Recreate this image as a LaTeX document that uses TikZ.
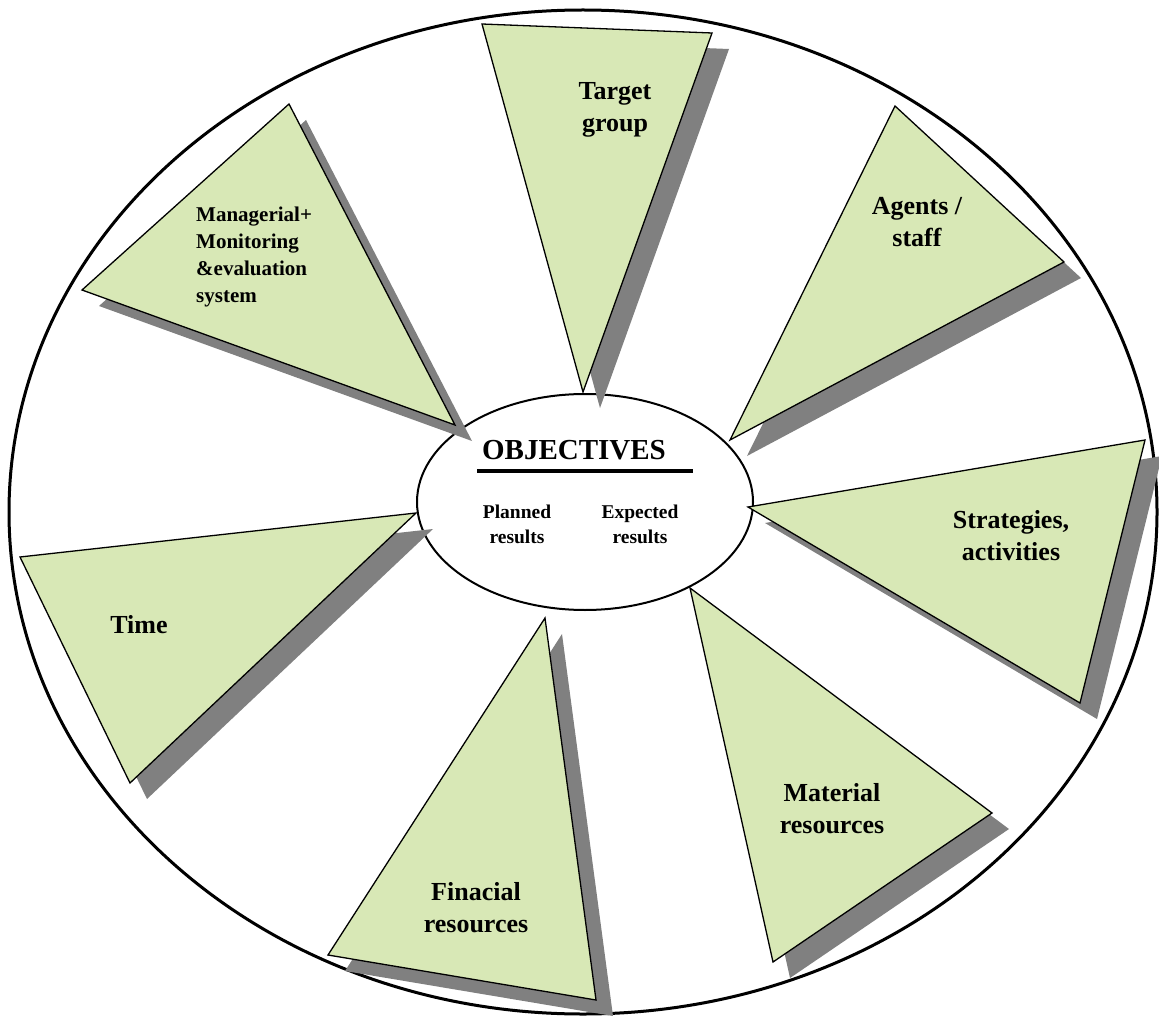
\documentclass[tikz,border=0pt]{standalone}
\usepackage{fontspec}
\setmainfont{Liberation Serif}
\usetikzlibrary{shapes.geometric}
\definecolor{leafgreen}{HTML}{D8E8B6}
\definecolor{shadowgray}{HTML}{808080}
\tikzset{%
  leaf/.style       = {fill=leafgreen, draw=black, line width=1.3pt},
  leafshadow/.style = {fill=shadowgray, shift={(17,16)}},
  leaftext/.style   = {inner sep=0pt, align=center,
                       font=\bfseries\fontsize{26}{32}\selectfont},
  subtext/.style    = {inner sep=0pt, align=center,
                       font=\bfseries\fontsize{19.5}{25}\selectfont},
}

\begin{document}
\begin{tikzpicture}[x=1pt, y=-1pt]
  \useasboundingbox (0,0) rectangle (1159,1016);

  % frame and centre
  \draw[line width=3pt] (583,512) ellipse [x radius=574, y radius=502];
  \node (objectives) [ellipse, draw=black, fill=white, line width=2pt,
        minimum width=336pt, minimum height=216pt, inner sep=0pt] at (585,502) {};

  % leaves: shadow first, then the leaf
  \fill[leafshadow] (482,24) -- (712,33) -- (583,392) -- cycle;
  \draw[leaf]       (482,24) -- (712,33) -- (583,392) -- cycle;

  \fill[leafshadow] (895,106) -- (1064,262) -- (730,440) -- cycle;
  \draw[leaf]       (895,106) -- (1064,262) -- (730,440) -- cycle;

  \fill[leafshadow] (1145,440) -- (1080,703) -- (748,507) -- cycle;
  \draw[leaf]       (1145,440) -- (1080,703) -- (748,507) -- cycle;

  \fill[leafshadow] (690,588) -- (992,813) -- (773,962) -- cycle;
  \draw[leaf]       (690,588) -- (992,813) -- (773,962) -- cycle;

  \fill[leafshadow] (545,618) -- (596,1000) -- (328,955) -- cycle;
  \draw[leaf]       (545,618) -- (596,1000) -- (328,955) -- cycle;

  \fill[leafshadow] (20,557) -- (416,513) -- (130,783) -- cycle;
  \draw[leaf]       (20,557) -- (416,513) -- (130,783) -- cycle;

  \fill[leafshadow] (289,104) -- (455,425) -- (82,290) -- cycle;
  \draw[leaf]       (289,104) -- (455,425) -- (82,290) -- cycle;

  % texts
  \node (target)    [leaftext] at (615,110)  {Target\\group};
  \node (agents)    [leaftext] at (917,222)  {Agents /\\staff};
  \node (strategy)  [leaftext] at (1011,536) {Strategies,\\activities};
  \node (material)  [leaftext] at (832,809)  {Material\\resources};
  \node (financial) [leaftext] at (476,908)  {Finacial\\resources};
  \node (time)      [leaftext] at (139,625)  {Time};
  \node (managerial)[leaftext, align=left, anchor=west,
                     font=\bfseries\fontsize{21}{27.3}\selectfont]
                     at (196,257) {Managerial+\\Monitoring\\\&evaluation\\system};

  \node (objtitle)  [inner sep=0pt, font=\bfseries\fontsize{29}{34}\selectfont]
                     at (574,450) {OBJECTIVES};
  \coordinate (ruleL) at (477,471);
  \coordinate (ruleR) at (693,471);
  \draw[line width=4pt] (ruleL) -- (ruleR);
  \node (planned)   [subtext] at (517,524) {Planned\\results};
  \node (expected)  [subtext] at (640,524) {Expected\\results};
\end{tikzpicture}
\end{document}
